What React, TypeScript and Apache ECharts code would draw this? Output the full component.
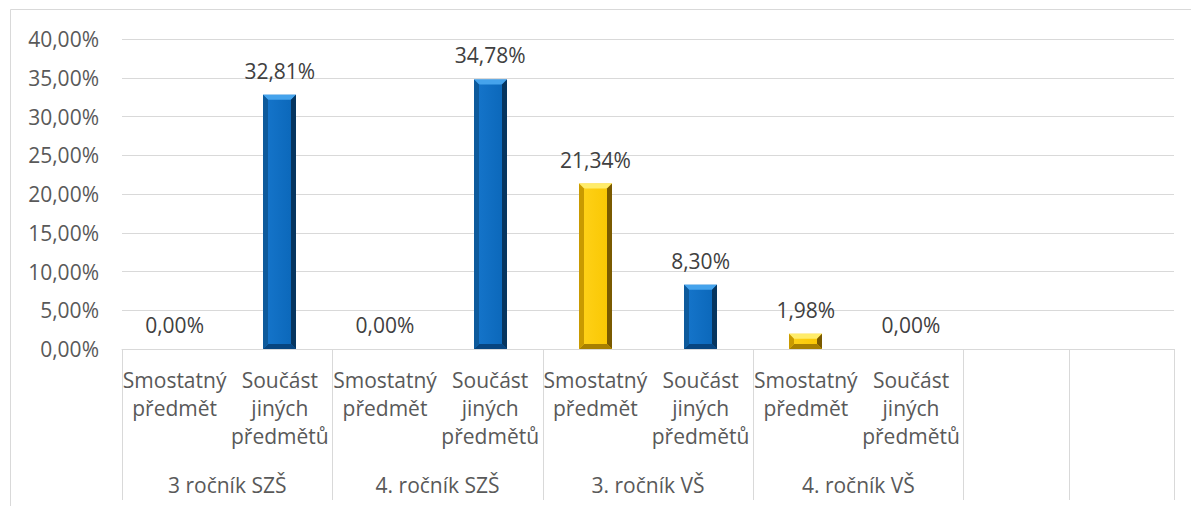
import React, { useEffect, useRef } from "react";
import * as echarts from "echarts";

const subCategories = [
  "Smostatný\npředmět",
  "Součást\njiných\npředmětů",
  "Smostatný\npředmět",
  "Součást\njiných\npředmětů",
  "Smostatný\npředmět",
  "Součást\njiných\npředmětů",
  "Smostatný\npředmět",
  "Součást\njiných\npředmětů",
  "",
  "",
];
const groupLabels = ["3 ročník SZŠ", "4. ročník SZŠ", "3. ročník VŠ", "4. ročník VŠ"];
const groupCenters = [1, 3, 5, 7];
const groupBoundaries = [0, 2, 4, 6, 8, 9, 10];
const values: (number | null)[] = [0.0, 32.81, 0.0, 34.78, 21.34, 8.3, 1.98, 0.0, null, null];
const kinds = ["own", "part", "own", "part", "own", "part", "own", "part", "", ""];

const FONT = "'Open Sans', 'Noto Sans', sans-serif";
const FS = 21;

const palette: Record<string, { face0: string; face1: string; top: string; right: string; left: string; bottom: string }> = {
  part: {
    face0: "#1676cc",
    face1: "#0a66b8",
    top: "#45a3ec",
    right: "#06355f",
    left: "#0d5a9c",
    bottom: "#074580",
  },
  own: {
    face0: "#ffd21a",
    face1: "#f9c600",
    top: "#ffec6a",
    right: "#7a5a00",
    left: "#c99a00",
    bottom: "#a88000",
  },
};

const fmt = (v: number) => v.toFixed(2).replace(".", ",") + "%";

export default function App() {
  const ref = useRef<HTMLDivElement>(null);
  useEffect(() => {
    if (!ref.current) return;
    const chart = echarts.init(ref.current, null, { renderer: "svg" });
    const BAR_W = 33;
    const data = values.map((v, i) => [i, v === null ? "-" : v]);
    chart.setOption({
      animation: false,
      backgroundColor: "#ffffff",
      graphic: [
        {
          type: "rect",
          shape: { x: 10.5, y: 9.5, width: 1300, height: 700 },
          style: { fill: "none", stroke: "#d9d9d9", lineWidth: 1 },
          silent: true,
          z: -10,
        },
      ],
      grid: { left: 122, right: 17, top: 39, bottom: 157, containLabel: false },
      xAxis: [
        {
          type: "category",
          data: subCategories,
          boundaryGap: true,
          axisLine: { show: true, lineStyle: { color: "#d9d9d9", width: 1 } },
          axisTick: { show: false },
          axisLabel: {
            interval: 0,
            margin: 17,
            color: "#595959",
            fontFamily: FONT,
            fontSize: FS,
            lineHeight: 28,
            align: "center",
          },
          splitLine: { show: false },
        },
        {
          type: "value",
          position: "bottom",
          min: 0,
          max: 10,
          axisLine: { show: false },
          axisTick: {
            show: true,
            inside: false,
            length: 151,
            customValues: groupBoundaries,
            lineStyle: { color: "#d9d9d9", width: 1 },
          },
          axisLabel: {
            show: true,
            customValues: groupCenters,
            margin: 122,
            color: "#595959",
            fontFamily: FONT,
            fontSize: FS,
            lineHeight: 28,
            formatter: (v: number) => groupLabels[groupCenters.indexOf(v)] ?? "",
          },
          splitLine: { show: false },
        },
      ],
      yAxis: {
        type: "value",
        min: 0,
        max: 40,
        interval: 5,
        axisLine: { show: false },
        axisTick: { show: false },
        axisLabel: {
          margin: 23,
          color: "#595959",
          fontFamily: FONT,
          fontSize: FS,
          formatter: (v: number) => fmt(v),
        },
        splitLine: { lineStyle: { color: "#d9d9d9", width: 1 } },
      },
      series: [
        {
          type: "custom",
          xAxisIndex: 0,
          yAxisIndex: 0,
          data,
          clip: false,
          renderItem: (params: any, api: any) => {
            const idx = api.value(0);
            const raw = values[idx];
            if (raw === null || raw === undefined) return null;
            const top = api.coord([idx, raw]);
            const base = api.coord([idx, 0]);
            const cx = top[0];
            const x0 = Math.round(cx - BAR_W / 2);
            const x1 = x0 + BAR_W;
            const y0 = top[1];
            const y1 = base[1];
            const h = y1 - y0;
            const children: any[] = [];
            const pal = palette[kinds[idx]];
            if (h > 0.5 && pal) {
              const b = Math.min(5, h / 2);
              children.push({
                type: "rect",
                shape: { x: x0, y: y0, width: BAR_W, height: h },
                style: {
                  fill: new echarts.graphic.LinearGradient(0, 0, 1, 0, [
                    { offset: 0, color: pal.face0 },
                    { offset: 1, color: pal.face1 },
                  ]),
                },
              });
              children.push({
                type: "polygon",
                shape: { points: [[x0, y0], [x1, y0], [x1 - b, y0 + b], [x0 + b, y0 + b]] },
                style: { fill: pal.top },
              });
              children.push({
                type: "polygon",
                shape: { points: [[x1, y0], [x1, y1], [x1 - b, y1 - b], [x1 - b, y0 + b]] },
                style: { fill: pal.right },
              });
              children.push({
                type: "polygon",
                shape: { points: [[x0, y1], [x1, y1], [x1 - b, y1 - b], [x0 + b, y1 - b]] },
                style: { fill: pal.bottom },
              });
              children.push({
                type: "polygon",
                shape: { points: [[x0, y0], [x0 + b, y0 + b], [x0 + b, y1 - b], [x0, y1]] },
                style: { fill: pal.left },
              });
            }
            children.push({
              type: "text",
              style: {
                text: fmt(raw),
                x: cx,
                y: y0 - 24,
                align: "center",
                verticalAlign: "middle",
                fill: "#404040",
                fontFamily: FONT,
                fontSize: FS,
              },
            });
            return { type: "group", children };
          },
        },
      ],
    });
    return () => chart.dispose();
  }, []);
  return (
    <div
      ref={ref}
      style={{ position: "fixed", left: 0, top: 0, width: 1191, height: 506 }}
    />
  );
}
